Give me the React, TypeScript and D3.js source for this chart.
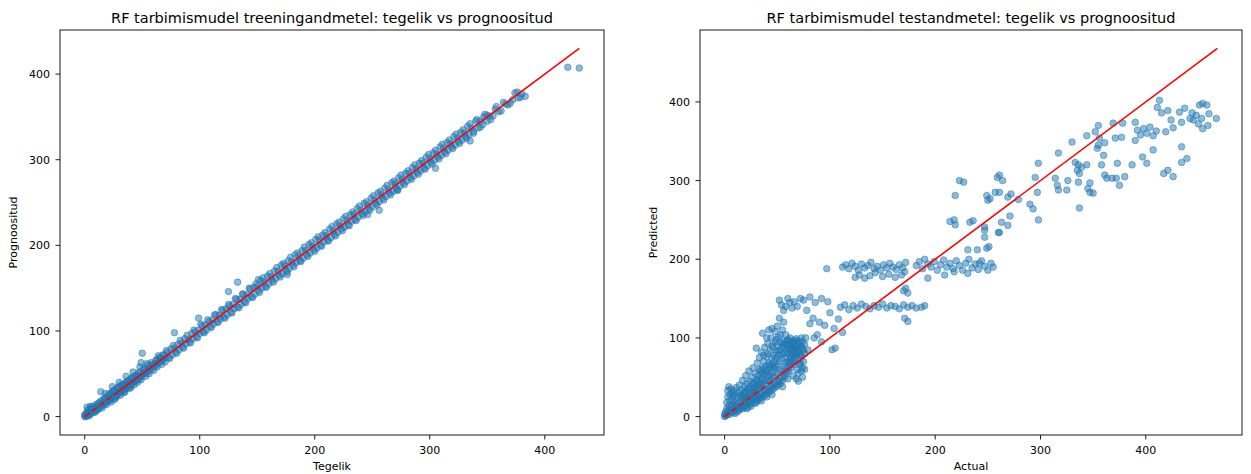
import React from "react";
import * as d3 from "d3";

// training set: actual (tegelik) vs predicted (prognoositud)
const trainPoints: [number, number][] = [
  [0, 0], [0, 2], [1, 0], [1, 3], [2, 1], [2, 5], [2, 11], [3, 2], [3, 8], [4, 3], [4, 1], [5, 6], [5, 12],
  [6, 4], [6, 9], [7, 5], [8, 10], [8, 6], [9, 8], [10, 7], [10, 14], [11, 12], [12, 9], [12, 16], [13, 11],
  [14, 18], [14, 12], [14, 29], [15, 14], [16, 13], [16, 20], [17, 15], [18, 22], [18, 16], [19, 17], [20, 24],
  [20, 18], [21, 20], [22, 19], [22, 27], [23, 21], [24, 23], [24, 29], [25, 22], [26, 25], [26, 31], [27, 26],
  [28, 24], [28, 33], [29, 28], [30, 27], [30, 35], [31, 29], [32, 30], [32, 37], [33, 31], [34, 33], [34, 38],
  [35, 32], [36, 35], [36, 40], [37, 34], [38, 37], [38, 42], [39, 36], [40, 39], [40, 44], [41, 38], [42, 41],
  [42, 46], [43, 40], [44, 43], [45, 42], [45, 48], [46, 45], [47, 44], [48, 47], [48, 52], [49, 46], [49, 63],
  [50, 49], [50, 74], [51, 50], [52, 51], [52, 56], [53, 50], [54, 53], [55, 56], [56, 53], [57, 58], [58, 55],
  [59, 61], [60, 58], [61, 62], [62, 60], [63, 66], [64, 62], [64, 71], [65, 64], [66, 68], [67, 65], [68, 67],
  [69, 72], [70, 68],
  [3, 5], [5, 9], [7, 12], [9, 5], [11, 8], [13, 15], [15, 10], [17, 20], [19, 14], [21, 26], [23, 17], [25, 30],
  [27, 22], [29, 34], [31, 25], [33, 37], [35, 29], [37, 41], [39, 33], [41, 45], [43, 37], [44, 48], [46, 40],
  [47, 51], [49, 43], [51, 55], [53, 47], [55, 60], [56, 50], [58, 63], [60, 54], [62, 66], [63, 58], [65, 69],
  [67, 61], [68, 72], [70, 64], [18, 27], [24, 35], [30, 40], [36, 47], [42, 52], [48, 58], [54, 62], [26, 20],
  [34, 28], [40, 34],
  [72, 75], [73, 69], [75, 79], [76, 72], [78, 80], [78, 98], [79, 75], [81, 84], [82, 78],
  [84, 86], [85, 81], [87, 91], [88, 85], [90, 90], [91, 87], [93, 97], [94, 91], [96, 99], [97, 93], [99, 101],
  [99, 115], [100, 97], [102, 106], [103, 99], [105, 107], [106, 101], [108, 111], [109, 105], [111, 113],
  [112, 108], [114, 119], [115, 111], [117, 118], [118, 114], [120, 124], [121, 116], [123, 126], [124, 119],
  [125, 146], [126, 129], [127, 122], [129, 131], [130, 126], [132, 137], [133, 128], [133, 157], [135, 137],
  [136, 131], [138, 143], [139, 134], [141, 142], [142, 138], [144, 149], [145, 140], [147, 151], [148, 143],
  [150, 152], [151, 147], [151, 160], [153, 159], [154, 150], [156, 157], [157, 152], [159, 164], [160, 155],
  [162, 163], [163, 159], [165, 170], [166, 161], [168, 170], [169, 165], [171, 177], [172, 167], [174, 176],
  [175, 171], [176, 166], [177, 182], [178, 173], [180, 181], [181, 177], [183, 189], [184, 180], [186, 187],
  [187, 182], [189, 194], [190, 185], [192, 194], [193, 189], [195, 201], [196, 191], [198, 199], [199, 195],
  [201, 207], [202, 197], [204, 206], [205, 200], [207, 212], [208, 204], [210, 211], [211, 206], [213, 219],
  [214, 209], [216, 217], [217, 213], [219, 225], [220, 215], [222, 223], [223, 219], [225, 231], [226, 221],
  [228, 229], [229, 224], [231, 236], [232, 228], [234, 236], [235, 230], [237, 243], [238, 233], [240, 241],
  [241, 237], [243, 249], [244, 239], [246, 247], [246, 236], [247, 243], [249, 255], [250, 245], [252, 253],
  [253, 249], [255, 261], [256, 251], [256, 241], [258, 259], [259, 255], [261, 267], [262, 257], [264, 265],
  [265, 261], [267, 273], [268, 263], [270, 272], [271, 266], [272, 264], [273, 279], [274, 269], [276, 277],
  [277, 273], [279, 284], [280, 275], [282, 284], [283, 279], [285, 291], [286, 281], [288, 289], [289, 285],
  [291, 296], [292, 287], [294, 296], [295, 290], [297, 303], [298, 293], [300, 301], [301, 297], [303, 308],
  [304, 299], [305, 290], [306, 307], [307, 303], [309, 315], [310, 305], [312, 313], [313, 309], [315, 320],
  [316, 311], [318, 319], [319, 315], [321, 327], [322, 317], [324, 325], [325, 321], [327, 332], [328, 323],
  [330, 331], [331, 327], [333, 339], [334, 329], [335, 322], [336, 337], [338, 333], [340, 345], [342, 337],
  [344, 345], [346, 341], [348, 353], [350, 345], [352, 351], [355, 351], [358, 362], [362, 357], [366, 365],
  [370, 366], [374, 378], [377, 372], [380, 377], [383, 374], [420, 408], [430, 407],
  [71, 77], [74, 68], [77, 83], [80, 74], [83, 89], [86, 80], [89, 95], [92, 86], [95, 101], [98, 92],
  [101, 108], [104, 98], [107, 113], [110, 104], [113, 119], [116, 110], [119, 125], [122, 115], [125, 131],
  [128, 121], [131, 138], [134, 127], [137, 143], [140, 133], [143, 150], [146, 139], [149, 155], [152, 145],
  [155, 162], [158, 151], [161, 167], [164, 157], [167, 174], [170, 163], [173, 179], [176, 169], [179, 186],
  [182, 175], [185, 191], [188, 181], [191, 198], [194, 187], [197, 203], [200, 193], [203, 210], [206, 199],
  [209, 215], [212, 205], [215, 222], [218, 211], [221, 227], [224, 217], [227, 234], [230, 223], [233, 239],
  [236, 229], [239, 246], [242, 235], [245, 251], [248, 241], [251, 258], [254, 247], [257, 263], [260, 253],
  [263, 270], [266, 259], [269, 275], [272, 265], [275, 282], [278, 271], [281, 287], [284, 277], [287, 294],
  [290, 283], [293, 299], [296, 289], [299, 306], [302, 295], [305, 311], [308, 301], [311, 318], [314, 307],
  [317, 323], [320, 313], [323, 330], [326, 319], [329, 335], [332, 325], [335, 342], [338, 331], [341, 347],
  [344, 338], [347, 350], [350, 352], [353, 347], [357, 359], [360, 356], [364, 367], [368, 364], [372, 370],
  [376, 379], [379, 373],
];

// test set: actual vs predicted
const testPoints: [number, number][] = [
  [0, 0], [0, 3], [1, 1], [1, 6], [2, 2], [2, 10], [2, 18], [3, 4], [3, 25], [3, 33], [4, 8], [4, 14], [4, 38],
  [5, 3], [5, 20], [5, 28], [6, 6], [6, 12], [6, 35], [7, 9], [7, 22], [7, 30], [8, 5], [8, 16], [8, 26],
  [9, 11], [9, 33], [10, 8], [10, 19], [10, 28], [11, 14], [11, 37], [12, 10], [12, 24], [13, 17], [13, 31],
  [14, 12], [14, 40], [15, 20], [15, 27], [16, 14], [16, 34], [17, 22], [17, 46], [18, 17], [18, 29], [19, 25],
  [19, 38], [20, 19], [20, 32], [20, 52], [21, 24], [21, 42], [22, 21], [22, 35], [23, 28], [23, 58], [24, 24],
  [24, 45], [25, 30], [25, 38], [26, 27], [26, 50], [27, 34], [27, 62], [28, 30], [28, 42], [29, 37], [29, 55],
  [30, 33], [30, 46], [30, 87], [31, 40], [31, 68], [32, 35], [32, 52], [33, 44], [33, 75], [34, 39], [34, 58],
  [35, 48], [35, 82], [36, 42], [36, 106], [36, 62], [37, 52], [37, 70], [38, 45], [38, 88], [39, 55], [39, 64],
  [40, 48], [40, 76], [41, 58], [41, 93], [42, 52], [42, 68], [43, 62], [43, 84], [44, 55], [44, 100], [45, 66],
  [45, 74], [46, 58], [46, 88], [47, 70], [47, 62], [48, 64], [48, 95], [49, 74], [49, 82], [50, 66], [50, 90],
  [51, 78], [51, 101], [52, 70], [52, 148], [53, 84], [53, 94], [54, 74], [54, 142], [55, 88], [55, 79],
  [56, 96], [56, 135], [57, 82], [57, 92], [58, 76], [58, 140], [59, 90], [59, 86], [60, 80], [60, 98],
  [60, 150], [61, 92], [62, 84], [62, 145], [63, 96], [63, 88], [64, 82], [64, 138], [65, 94], [65, 86],
  [66, 90], [66, 146], [67, 80], [67, 97], [68, 88], [68, 48], [69, 92], [69, 140], [70, 84], [70, 45],
  [71, 96], [72, 78], [72, 150], [73, 90], [74, 86], [75, 148], [76, 80], [78, 135], [81, 118], [81, 152],
  [10, 4], [12, 6], [14, 8], [15, 11], [17, 10], [18, 12], [20, 14], [21, 10], [22, 16], [24, 18], [25, 13],
  [26, 20], [28, 22], [29, 17], [30, 24], [31, 20], [32, 26], [33, 22], [34, 28], [35, 24], [36, 30], [37, 26],
  [38, 32], [39, 28], [40, 34], [41, 30], [42, 36], [43, 32], [44, 38], [45, 34], [46, 40], [47, 36], [48, 42],
  [49, 38], [50, 44], [51, 40], [52, 46], [53, 42], [54, 50], [55, 46], [56, 54], [57, 50], [58, 58], [59, 55],
  [60, 62], [61, 58], [62, 66], [63, 62], [64, 70], [65, 66], [66, 74], [67, 70], [68, 78], [69, 60], [70, 72],
  [71, 80], [72, 68], [73, 76], [74, 62], [75, 70], [70, 55], [65, 52], [60, 48], [55, 38], [45, 28], [40, 25],
  [35, 20], [30, 18], [25, 16], [22, 12], [60, 70], [62, 78], [58, 68], [54, 60], [50, 55], [46, 50], [42, 45],
  [38, 40], [34, 36], [30, 30], [28, 26], [64, 90], [66, 95], [68, 99], [70, 92], [72, 88], [74, 95], [76, 92],
  [73, 100], [62, 100], [58, 104], [55, 110], [50, 115], [48, 108], [45, 112], [52, 125], [56, 120], [40, 100],
  [42, 110], [77, 100], [79, 85], [76, 60], [74, 50],
  [16, 26], [19, 31], [23, 36], [27, 42], [31, 47], [35, 55], [39, 60], [43, 66], [47, 78], [51, 84], [55, 92],
  [59, 96], [63, 74], [67, 86], [71, 66], [75, 84], [33, 60], [37, 78], [41, 80], [45, 90], [49, 98], [53, 104],
  [57, 64], [61, 70], [65, 78], [69, 82], [73, 58], [44, 46], [48, 50], [52, 58],
  [85, 100], [88, 104], [90, 120], [92, 95], [95, 116], [97, 188], [100, 132], [102, 85], [104, 112],
  [105, 87], [108, 124], [112, 107], [86, 145], [92, 150], [98, 146], [84, 125],
  [112, 190], [115, 193], [118, 188], [121, 195], [124, 191], [127, 186], [130, 194], [133, 189], [136, 192],
  [139, 196], [142, 188], [145, 191], [148, 186], [151, 193], [154, 189], [157, 195], [160, 190], [163, 187],
  [166, 193], [169, 189], [172, 196],
  [124, 177], [128, 180], [133, 176], [138, 179], [143, 183], [150, 178], [156, 181], [162, 177], [168, 180],
  [171, 184],
  [110, 139], [114, 142], [118, 136], [122, 141], [126, 138], [130, 143], [134, 140], [138, 137], [142, 141],
  [146, 139], [150, 143], [154, 138], [158, 141], [162, 140], [166, 137], [170, 142], [174, 139], [178, 141],
  [182, 138], [187, 139], [190, 141],
  [170, 160], [172, 163], [174, 157], [171, 125], [174, 121],
  [182, 192], [185, 197], [188, 188], [190, 200], [193, 194], [193, 176], [196, 190], [199, 197], [202, 186],
  [205, 193], [208, 199], [209, 180], [211, 190], [214, 195], [217, 188], [218, 184], [220, 198], [223, 192],
  [226, 186], [229, 195], [231, 182], [232, 200], [235, 189], [238, 194], [241, 187], [242, 195], [244, 198],
  [247, 191], [250, 186], [253, 195], [255, 190],
  [214, 248], [218, 250], [219, 244], [223, 300], [227, 298], [219, 281], [231, 212], [240, 212], [233, 247],
  [236, 249], [247, 228], [247, 237], [249, 281], [250, 275], [251, 216], [257, 285], [259, 304], [260, 234],
  [261, 307], [264, 300], [249, 214], [252, 277], [269, 279], [272, 283], [279, 276], [261, 285], [271, 255],
  [263, 247], [269, 243], [261, 234], [247, 241], [290, 270], [293, 264], [295, 304], [297, 285], [298, 322],
  [298, 250], [317, 335], [314, 303], [316, 294], [317, 288], [325, 288], [326, 300], [330, 349], [333, 323],
  [336, 320], [335, 313], [339, 317], [344, 320], [337, 309], [336, 298], [347, 297], [345, 290], [347, 285],
  [350, 284], [337, 265], [344, 357], [352, 362], [355, 370], [356, 354], [355, 345], [354, 341], [361, 348],
  [360, 332], [358, 320], [361, 307], [363, 303], [368, 303], [372, 303], [375, 294], [380, 305], [373, 322],
  [371, 354], [377, 355], [369, 373], [378, 373], [387, 320], [390, 374], [392, 364], [390, 351], [395, 358],
  [398, 366], [401, 360], [404, 368], [407, 357], [410, 363], [397, 330], [401, 322], [407, 339], [411, 393],
  [413, 402], [415, 386], [421, 389], [424, 377], [426, 367], [419, 362], [417, 309], [421, 313], [426, 305],
  [432, 387], [434, 374], [434, 343], [434, 323], [439, 328], [437, 392], [444, 386], [445, 377], [448, 383],
  [451, 396], [454, 398], [458, 396], [453, 379], [454, 366], [459, 370], [460, 385], [467, 379], [450, 372],
  [442, 379],
];

// reference diagonal y = x, from the smallest to the largest actual value
const trainDiagonal = [0, 430];
const testDiagonal = [0, 468];
// stretch near the origin where the diagonal shows as dashes over the cloud
const trainDashedTo = [0, 28];
const testDashedTo = [0, 52];

const tickValues = [0, 100, 200, 300, 400];

const titles = [
  "RF tarbimismudel treeningandmetel: tegelik vs prognoositud",
  "RF tarbimismudel testandmetel: tegelik vs prognoositud",
];
const xLabels = ["Tegelik", "Actual"];
const yLabels = ["Prognoositud", "Predicted"];

const FONT = "DejaVu Sans, sans-serif";

type Box = { left: number; top: number; width: number; height: number };

function padded(values: number[]): [number, number] {
  const [lo, hi] = d3.extent(values) as [number, number];
  const pad = (hi - lo) * 0.05;
  return [lo - pad, hi + pad];
}

const Panel = ({
  box,
  points,
  diagonal,
  dashedTo,
  title,
  xLabel,
  yLabel,
}: {
  box: Box;
  points: [number, number][];
  diagonal: number[];
  dashedTo: number[];
  title: string;
  xLabel: string;
  yLabel: string;
}) => {
  const xScale = d3
    .scaleLinear()
    .domain(padded([...points.map((d) => d[0]), ...diagonal]))
    .range([0, box.width]);
  const yScale = d3
    .scaleLinear()
    .domain(padded([...points.map((d) => d[1]), ...diagonal]))
    .range([box.height, 0]);

  const line = d3
    .line<number>()
    .x((d) => xScale(d))
    .y((d) => yScale(d));

  return (
    <g transform={`translate(${box.left},${box.top})`}>
      <text
        x={box.width / 2}
        y={-7}
        textAnchor="middle"
        fontSize={14.5}
        fontFamily={FONT}
      >
        {title}
      </text>

      {/* points: face and edge both half transparent, like matplotlib */}
      <g
        fill="#1f77b4"
        fillOpacity={0.5}
        stroke="#1f77b4"
        strokeOpacity={0.5}
        strokeWidth={1}
      >
        {points.map((d, i) => (
          <circle key={i} cx={xScale(d[0])} cy={yScale(d[1])} r={3.3} />
        ))}
      </g>

      {/* diagonal on top, dashed piece near origin */}
      <path
        d={line(dashedTo) || ""}
        stroke="red"
        strokeWidth={1.6}
        strokeDasharray="6,3"
        fill="none"
      />
      <path
        d={line([dashedTo[1], diagonal[1]]) || ""}
        stroke="red"
        strokeWidth={1.6}
        fill="none"
      />

      {/* frame */}
      <rect
        width={box.width}
        height={box.height}
        fill="none"
        stroke="#000"
        strokeWidth={0.9}
      />

      {/* x ticks */}
      {tickValues.map((t) => (
        <g key={"x" + t} transform={`translate(${xScale(t)},${box.height})`}>
          <line y2={4.5} stroke="#000" strokeWidth={0.9} />
          <text
            y={19}
            textAnchor="middle"
            fontSize={11}
            fontFamily={FONT}
          >
            {t}
          </text>
        </g>
      ))}
      <text
        x={box.width / 2}
        y={box.height + 35}
        textAnchor="middle"
        fontSize={11}
        fontFamily={FONT}
      >
        {xLabel}
      </text>

      {/* y ticks */}
      {tickValues.map((t) => (
        <g key={"y" + t} transform={`translate(0,${yScale(t)})`}>
          <line x2={-4.5} stroke="#000" strokeWidth={0.9} />
          <text
            x={-10}
            dy="0.36em"
            textAnchor="end"
            fontSize={11}
            fontFamily={FONT}
          >
            {t}
          </text>
        </g>
      ))}
      <text
        transform={`translate(${-43},${box.height / 2}) rotate(-90)`}
        textAnchor="middle"
        fontSize={11}
        fontFamily={FONT}
      >
        {yLabel}
      </text>
    </g>
  );
};

export default function App() {
  const width = 1251;
  const height = 474;
  const leftBox: Box = { left: 60, top: 30, width: 544, height: 405 };
  const rightBox: Box = { left: 700, top: 30, width: 542, height: 405 };

  return (
    <svg
      width={width}
      height={height}
      style={{ position: "absolute", left: 0, top: 0, background: "#fff" }}
    >
      <Panel
        box={leftBox}
        points={trainPoints}
        diagonal={trainDiagonal}
        dashedTo={trainDashedTo}
        title={titles[0]}
        xLabel={xLabels[0]}
        yLabel={yLabels[0]}
      />
      <Panel
        box={rightBox}
        points={testPoints}
        diagonal={testDiagonal}
        dashedTo={testDashedTo}
        title={titles[1]}
        xLabel={xLabels[1]}
        yLabel={yLabels[1]}
      />
    </svg>
  );
}
